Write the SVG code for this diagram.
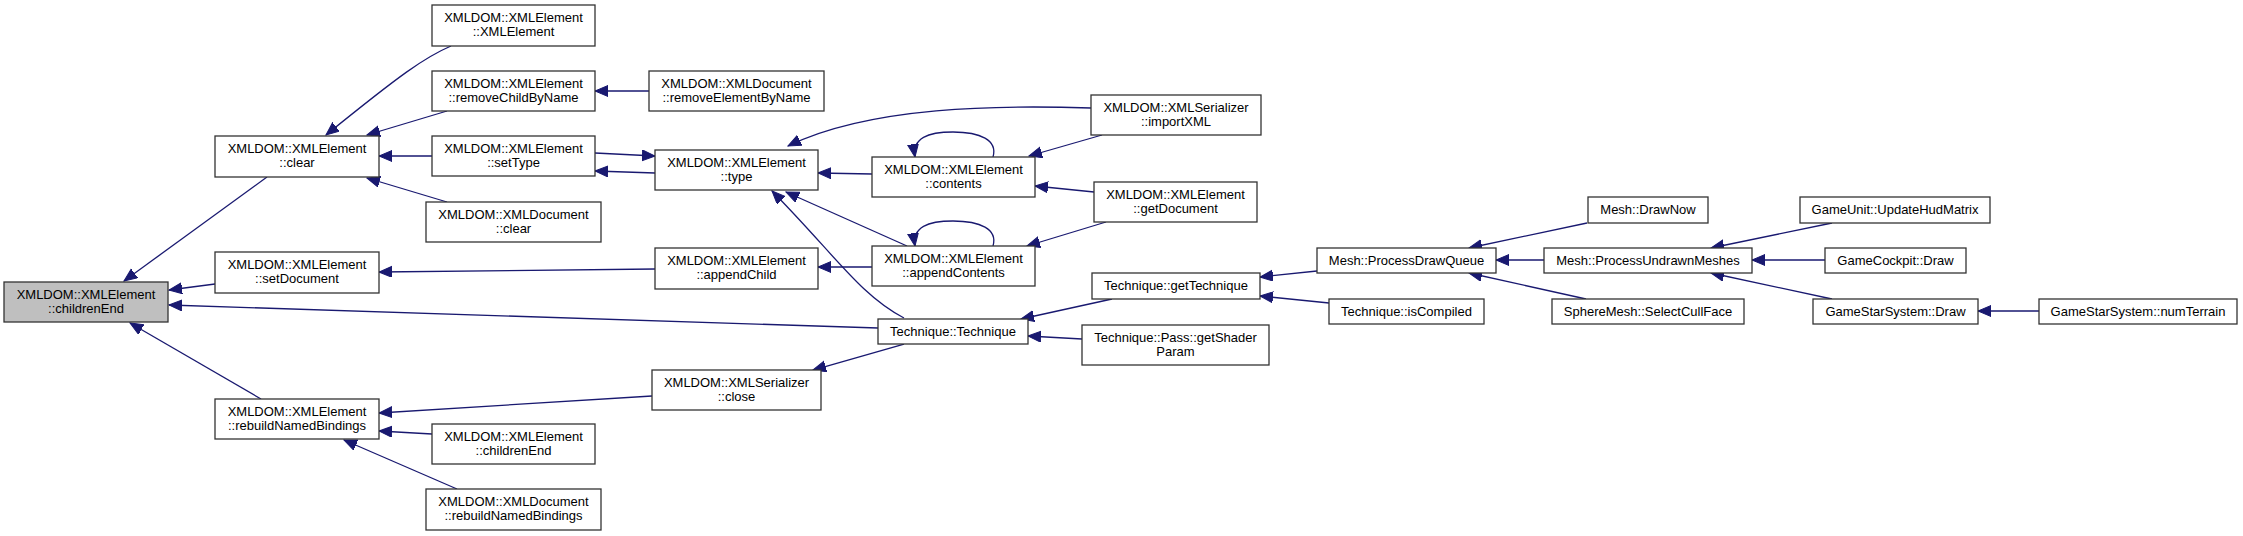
<svg xmlns="http://www.w3.org/2000/svg" width="2243" height="536" viewBox="0 0 2243 536">
<defs>
<style>
.n rect{fill:#ffffff;stroke:#333333;stroke-width:1.3}
.n.f rect{fill:#bfbfbf}
.n text{font-family:"Liberation Sans",Arial,sans-serif;font-size:13px;fill:#000000;text-anchor:middle}
.e path{fill:none;stroke:#191970;stroke-width:1.3;marker-end:url(#ah)}
</style>
<marker id="ah" markerUnits="userSpaceOnUse" markerWidth="14" markerHeight="12" refX="13" refY="5.5" orient="auto">
<path d="M0,0 L13,5.5 L0,11 z" fill="#191970" stroke="#191970" stroke-width="1"/>
</marker>
</defs>
<rect width="2243" height="536" fill="#ffffff"/>
<g id="edges" class="e">
<path d="M267,177 L124,281"/>
<path d="M215,284 L169,290"/>
<path d="M878,328 L169,305"/>
<path d="M261,399 L130,323"/>
<path d="M451,46 C425,57 400,75 326,135"/>
<path d="M447,111 L367,135"/>
<path d="M432,156 L379,156"/>
<path d="M447,202 L367,178"/>
<path d="M649,91 L595,91"/>
<path d="M595,153 L655,156"/>
<path d="M655,173 L595,171"/>
<path d="M1091,108 C1000,105 870,106 788,146"/>
<path d="M872,174 L818,173"/>
<path d="M907,246 L786,192"/>
<path d="M904,318 C860,295 835,255 772,191"/>
<path d="M993,157 C998,140 980,132 953,132 C928,132 912,138 915,157"/>
<path d="M993,246 C998,229 980,221 953,221 C928,221 912,227 915,246"/>
<path d="M1102,135 L1029,156"/>
<path d="M1094,192 L1035,186"/>
<path d="M1106,222 L1027,246"/>
<path d="M872,267 L818,267"/>
<path d="M655,269 L379,272"/>
<path d="M1112,299 L1021,319"/>
<path d="M1082,339 L1028,336"/>
<path d="M904,344 L813,370"/>
<path d="M652,396 L379,413"/>
<path d="M432,434 L379,431"/>
<path d="M457,489 L344,440"/>
<path d="M1317,271 L1260,277"/>
<path d="M1329,303 L1260,296"/>
<path d="M1587,223 L1469,248"/>
<path d="M1544,260 L1496,260"/>
<path d="M1586,299 L1469,273"/>
<path d="M1832,223 L1711,248"/>
<path d="M1825,260 L1752,260"/>
<path d="M1832,299 L1711,273"/>
<path d="M2039,311 L1978,311"/>
</g>
<g id="n_childrenEnd" class="n f"><rect x="4" y="282" width="164" height="40"/><text x="86" y="298.5">XMLDOM::XMLElement</text><text x="86" y="312.5">::childrenEnd</text></g>
<g id="n_clear" class="n"><rect x="215" y="136" width="164" height="41"/><text x="297" y="152.5">XMLDOM::XMLElement</text><text x="297" y="166.5">::clear</text></g>
<g id="n_setDocument" class="n"><rect x="215" y="252" width="164" height="41"/><text x="297" y="268.5">XMLDOM::XMLElement</text><text x="297" y="282.5">::setDocument</text></g>
<g id="n_rebuildNamedBindings" class="n"><rect x="215" y="399" width="164" height="40"/><text x="297" y="415.5">XMLDOM::XMLElement</text><text x="297" y="429.5">::rebuildNamedBindings</text></g>
<g id="n_XMLElement" class="n"><rect x="432" y="5" width="163" height="41"/><text x="513.5" y="21.5">XMLDOM::XMLElement</text><text x="513.5" y="35.5">::XMLElement</text></g>
<g id="n_removeChildByName" class="n"><rect x="432" y="71" width="163" height="40"/><text x="513.5" y="87.5">XMLDOM::XMLElement</text><text x="513.5" y="101.5">::removeChildByName</text></g>
<g id="n_setType" class="n"><rect x="432" y="136" width="163" height="40"/><text x="513.5" y="152.5">XMLDOM::XMLElement</text><text x="513.5" y="166.5">::setType</text></g>
<g id="n_doc_clear" class="n"><rect x="426" y="202" width="175" height="40"/><text x="513.5" y="218.5">XMLDOM::XMLDocument</text><text x="513.5" y="232.5">::clear</text></g>
<g id="n_childrenEnd2" class="n"><rect x="432" y="424" width="163" height="40"/><text x="513.5" y="440.5">XMLDOM::XMLElement</text><text x="513.5" y="454.5">::childrenEnd</text></g>
<g id="n_doc_rebuild" class="n"><rect x="426" y="489" width="175" height="41"/><text x="513.5" y="505.5">XMLDOM::XMLDocument</text><text x="513.5" y="519.5">::rebuildNamedBindings</text></g>
<g id="n_removeElementByName" class="n"><rect x="649" y="71" width="175" height="40"/><text x="736.5" y="87.5">XMLDOM::XMLDocument</text><text x="736.5" y="101.5">::removeElementByName</text></g>
<g id="n_type" class="n"><rect x="655" y="150" width="163" height="40"/><text x="736.5" y="166.5">XMLDOM::XMLElement</text><text x="736.5" y="180.5">::type</text></g>
<g id="n_appendChild" class="n"><rect x="655" y="248" width="163" height="41"/><text x="736.5" y="264.5">XMLDOM::XMLElement</text><text x="736.5" y="278.5">::appendChild</text></g>
<g id="n_close" class="n"><rect x="652" y="370" width="169" height="40"/><text x="736.5" y="386.5">XMLDOM::XMLSerializer</text><text x="736.5" y="400.5">::close</text></g>
<g id="n_contents" class="n"><rect x="872" y="157" width="163" height="40"/><text x="953.5" y="173.5">XMLDOM::XMLElement</text><text x="953.5" y="187.5">::contents</text></g>
<g id="n_appendContents" class="n"><rect x="872" y="246" width="163" height="40"/><text x="953.5" y="262.5">XMLDOM::XMLElement</text><text x="953.5" y="276.5">::appendContents</text></g>
<g id="n_Technique" class="n"><rect x="878" y="319" width="150" height="25"/><text x="953" y="335.5">Technique::Technique</text></g>
<g id="n_importXML" class="n"><rect x="1091" y="95" width="170" height="40"/><text x="1176" y="111.5">XMLDOM::XMLSerializer</text><text x="1176" y="125.5">::importXML</text></g>
<g id="n_getDocument" class="n"><rect x="1094" y="182" width="163" height="40"/><text x="1175.5" y="198.5">XMLDOM::XMLElement</text><text x="1175.5" y="212.5">::getDocument</text></g>
<g id="n_getTechnique" class="n"><rect x="1092" y="273" width="168" height="26"/><text x="1176" y="289.5">Technique::getTechnique</text></g>
<g id="n_getShaderParam" class="n"><rect x="1082" y="325" width="187" height="40"/><text x="1175.5" y="341.5">Technique::Pass::getShader</text><text x="1175.5" y="355.5">Param</text></g>
<g id="n_ProcessDrawQueue" class="n"><rect x="1317" y="248" width="179" height="25"/><text x="1406.5" y="264.5">Mesh::ProcessDrawQueue</text></g>
<g id="n_isCompiled" class="n"><rect x="1329" y="299" width="155" height="25"/><text x="1406.5" y="315.5">Technique::isCompiled</text></g>
<g id="n_DrawNow" class="n"><rect x="1588" y="197" width="120" height="26"/><text x="1648" y="213.5">Mesh::DrawNow</text></g>
<g id="n_ProcessUndrawnMeshes" class="n"><rect x="1544" y="248" width="208" height="25"/><text x="1648" y="264.5">Mesh::ProcessUndrawnMeshes</text></g>
<g id="n_SelectCullFace" class="n"><rect x="1552" y="299" width="192" height="25"/><text x="1648" y="315.5">SphereMesh::SelectCullFace</text></g>
<g id="n_UpdateHudMatrix" class="n"><rect x="1800" y="197" width="190" height="26"/><text x="1895" y="213.5">GameUnit::UpdateHudMatrix</text></g>
<g id="n_GameCockpitDraw" class="n"><rect x="1825" y="248" width="141" height="25"/><text x="1895.5" y="264.5">GameCockpit::Draw</text></g>
<g id="n_GameStarSystemDraw" class="n"><rect x="1813" y="299" width="165" height="25"/><text x="1895.5" y="315.5">GameStarSystem::Draw</text></g>
<g id="n_numTerrain" class="n"><rect x="2039" y="299" width="198" height="25"/><text x="2138" y="315.5">GameStarSystem::numTerrain</text></g>
</svg>
